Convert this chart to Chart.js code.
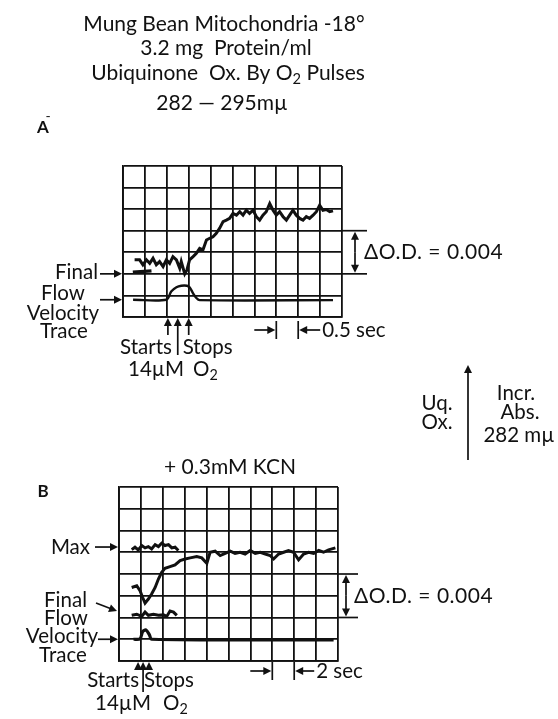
<!DOCTYPE html>
<html>
<head>
<meta charset="utf-8">
<script src="https://cdn.jsdelivr.net/npm/chart.js@4.4.0/dist/chart.umd.min.js"></script>
<style>
body{margin:0;background:#fff;}
#wrap{position:relative;width:558px;height:719px;}
canvas{position:absolute;left:0;top:0;}
</style>
</head>
<body>
<div id="wrap">
<canvas id="chartA" width="558" height="719"></canvas>
<canvas id="chartB" width="558" height="719"></canvas>
</div>
<script>
// x in grid divisions (A: 0.5 sec each, B: 2 sec each), y in grid divisions (0.002 O.D. each)
var traceA_t = [0.53,0.76,0.91,1.07,1.22,1.37,1.52,1.67,1.83,1.98,2.13,2.28,2.44,2.59,2.66,2.82,2.92,3.04,3.2,3.35,3.5,3.65,3.81,3.96,4.11,4.26,4.41,4.57,4.72,4.87,5.02,5.18,5.33,5.48,5.63,5.78,5.94,6.09,6.24,6.39,6.54,6.7,6.85,7.0,7.15,7.31,7.46,7.61,7.76,7.91,8.07,8.22,8.37,8.52,8.68,8.83,8.98,9.13,9.28,9.44,9.59];
var traceA_od = [2.65,2.65,2.42,2.65,2.49,2.72,2.42,2.57,2.34,2.65,2.49,2.8,2.65,2.26,2.57,2.0,2.18,2.65,2.8,2.95,3.18,3.11,3.57,3.65,3.72,3.88,4.11,4.42,4.49,4.57,4.8,4.72,4.88,4.72,4.95,4.8,4.95,4.65,4.49,4.72,4.88,5.26,4.95,4.72,4.88,4.65,4.49,4.72,4.95,4.72,4.57,4.49,4.65,4.57,4.72,4.88,5.18,4.95,4.98,4.88,4.92];
var finalA_t = [0.45, 1.3];
var finalA_od = [2.08, 2.14];
var flowA_t = [0.46,1.98,2.2,2.44,2.66,2.92,3.04,3.2,3.35,3.5,9.59];
var flowA_v = [0.8,0.8,1.18,1.38,1.45,1.45,1.38,1.1,0.88,0.78,0.78];
var pulseA = [2.05, 2.5, 3.0];   // starts, O2, stops

var maxB_t = [0.58,0.73,0.88,1.04,1.19,1.34,1.49,1.65,1.8,1.95,2.1,2.26,2.41,2.56,2.71];
var maxB_od = [5.12,5.23,5.11,5.31,5.2,5.26,5.15,5.35,5.26,5.42,5.31,5.35,5.2,5.23,5.08];
var traceB_t = [0.58,0.81,0.96,1.08,1.19,1.34,1.49,1.65,1.8,1.95,2.1,2.33,2.56,2.79,3.02,3.25,3.55,3.78,4.01,4.16,4.39,4.62,4.85,5.08,5.3,5.53,5.76,5.99,6.22,6.45,6.68,6.9,7.06,7.29,7.52,7.74,7.97,8.2,8.43,8.66,8.89,9.12,9.34,9.57,9.88];
var traceB_od = [3.38,3.46,3.23,2.92,2.66,2.85,3.08,3.38,3.77,4.08,4.26,4.34,4.42,4.62,4.69,4.74,4.8,4.74,4.49,5.0,5.05,4.85,4.95,5.05,4.95,5.0,4.92,5.08,4.95,5.0,4.92,4.85,4.69,4.92,5.0,5.08,5.0,4.65,4.92,5.0,4.95,5.08,5.0,5.11,5.2];
var finalB_t = [0.58,0.81,1.04,1.19,1.34,1.57,1.8,2.03,2.18,2.33,2.49,2.64];
var finalB_od = [2.1,2.15,2.05,2.25,2.1,2.15,2.1,2.12,2.05,2.3,2.25,2.1];
var flowB_t = [0.66,0.96,1.08,1.23,1.39,1.49,9.8];
var flowB_v = [1.0,1.02,1.35,1.43,1.2,1.0,0.97];
var pulseB = [0.87, 1.1, 1.37];

var FONT = 'Lato, "DejaVu Sans", sans-serif';
var INK = '#111';
var LS = 20.5;   // label size

function pts(xs, ys){ return xs.map(function(x, i){ return {x: x, y: ys[i]}; }); }

function line(d, w, tension){
    return {type:'scatter', data:d, showLine:true, borderColor:INK, borderWidth:w,
            pointRadius:0, tension:tension || 0, fill:false};
}

function put(ctx, s, x, y, size, align, weight, spacing){
    ctx.font = (weight || 'normal') + ' ' + size + 'px ' + FONT;
    ctx.letterSpacing = spacing || '0px';
    ctx.textAlign = align || 'left';
    ctx.textBaseline = 'middle';
    ctx.fillStyle = INK;
    ctx.fillText(s, x, y);
    ctx.letterSpacing = '0px';
}

// parts: [text, isSubscript]
function rich(ctx, parts, x, y, size, align){
    var total = 0;
    parts.forEach(function(p){
        ctx.font = (p[1] ? size*0.7 : size) + 'px ' + FONT;
        total += ctx.measureText(p[0]).width;
    });
    var cx = align == 'center' ? x - total/2 : x;
    parts.forEach(function(p){
        var s = p[1] ? size*0.7 : size;
        put(ctx, p[0], cx, y + (p[1] ? size*0.3 : 0), s, 'left');
        ctx.font = s + 'px ' + FONT;
        cx += ctx.measureText(p[0]).width;
    });
}

function arrow(ctx, x1, y1, x2, y2){
    var a = Math.atan2(y2-y1, x2-x1), L = 8, W = 4;
    ctx.strokeStyle = INK; ctx.fillStyle = INK; ctx.lineWidth = 1.7;
    ctx.beginPath(); ctx.moveTo(x1, y1); ctx.lineTo(x2 - Math.cos(a)*L*0.8, y2 - Math.sin(a)*L*0.8); ctx.stroke();
    ctx.beginPath();
    ctx.moveTo(x2, y2);
    ctx.lineTo(x2 - Math.cos(a)*L - Math.sin(a)*W, y2 - Math.sin(a)*L + Math.cos(a)*W);
    ctx.lineTo(x2 - Math.cos(a)*L + Math.sin(a)*W, y2 - Math.sin(a)*L - Math.cos(a)*W);
    ctx.closePath(); ctx.fill();
}

function seg(ctx, x1, y1, x2, y2, w){
    ctx.strokeStyle = INK; ctx.lineWidth = w || 1.7;
    ctx.beginPath(); ctx.moveTo(x1, y1); ctx.lineTo(x2, y2); ctx.stroke();
}

function gridScale(max){
    return {type:'linear', min:0, max:max,
        ticks:{display:false, stepSize:1},
        grid:{color:INK, lineWidth:1.8, drawTicks:false},
        border:{color:INK, width:1.8}};
}

function bracket(ctx, c, ext, arrowOff, textX){
    var xr = c.chartArea.right, y4 = c.scales.y.getPixelForValue(4), y2 = c.scales.y.getPixelForValue(2);
    seg(ctx, xr, y4, xr + ext, y4);
    seg(ctx, xr, y2, xr + ext, y2);
    var ax = xr + arrowOff;
    arrow(ctx, ax, (y4+y2)/2, ax, y4 + 1);
    arrow(ctx, ax, (y4+y2)/2, ax, y2 - 1);
    put(ctx, 'ΔO.D. = 0.004', textX, (y4+y2)/2, 21, 'left', 'normal', '0.5px');
}

function pulses(ctx, c, marks, tail, longTail){
    var b = c.chartArea.bottom;
    marks.forEach(function(u, i){
        var px = c.scales.x.getPixelForValue(u);
        arrow(ctx, px, i == 1 ? longTail : tail, px, b + 1);
    });
    return marks.map(function(u){ return c.scales.x.getPixelForValue(u); });
}

function timeBar(ctx, c, y, label, gap){
    var x7 = c.scales.x.getPixelForValue(7), x8 = c.scales.x.getPixelForValue(8);
    seg(ctx, x7, y - 9, x7, y + 9);
    seg(ctx, x8, y - 9, x8, y + 9);
    arrow(ctx, x7 - 22, y, x7 - 1, y);
    arrow(ctx, x8 + gap, y, x8 + 1, y);
    put(ctx, label, x8 + gap + 2, y, LS);
}

var annotA = {
    id: 'annotA',
    afterDraw: function(c){
        var ctx = c.ctx, y = c.scales.y;
        ctx.save();
        put(ctx, 'Mung Bean Mitochondria -18°', 224, 24, 21, 'center');
        put(ctx, '3.2 mg  Protein/ml', 226, 48, 21, 'center');
        rich(ctx, [['Ubiquinone  Ox. By O', 0], ['2', 1], [' Pulses', 0]], 228, 73, 21, 'center');
        put(ctx, '282 — 295mµ', 222, 103, 21, 'center');
        put(ctx, '-', 48, 116, 14, 'center');
        put(ctx, 'A', 43, 128, 17, 'center', 'bold');

        put(ctx, 'Final', 98, 272, LS, 'right');
        arrow(ctx, 100, y.getPixelForValue(2), c.chartArea.left - 1, y.getPixelForValue(2));
        put(ctx, 'Flow', 63, 293, LS, 'center');
        arrow(ctx, 100, y.getPixelForValue(flowA_v[0]), c.chartArea.left - 1, y.getPixelForValue(flowA_v[0]));
        put(ctx, 'Velocity', 63, 313, LS, 'center');
        put(ctx, 'Trace', 64, 331, LS, 'center');

        bracket(ctx, c, 25, 13, 364);

        var px = pulses(ctx, c, pulseA, 335, 355);
        put(ctx, 'Starts', px[0] + 4, 347, LS, 'right');
        put(ctx, 'Stops', px[2] - 6, 347, LS, 'left');
        put(ctx, '14µM', 128, 369, LS, 'left');
        rich(ctx, [['O', 0], ['2', 1]], 193, 369, LS, 'left');

        timeBar(ctx, c, 330, '0.5 sec', 22);

        // direction key between panels
        arrow(ctx, 468, 460, 468, 365);
        put(ctx, 'Uq.', 437, 403, LS, 'center');
        put(ctx, 'Ox.', 437, 422, LS, 'center');
        put(ctx, 'Incr.', 516, 393, LS, 'center');
        put(ctx, 'Abs.', 520, 412, LS, 'center');
        put(ctx, '282 mµ', 519, 435, LS, 'center');
        ctx.restore();
    }
};

var annotB = {
    id: 'annotB',
    afterDraw: function(c){
        var ctx = c.ctx, y = c.scales.y, L = c.chartArea.left;
        ctx.save();
        put(ctx, '+ 0.3mM KCN', 230, 467, 21, 'center');
        put(ctx, 'B', 43, 492, 17, 'center', 'bold');

        put(ctx, 'Max', 90, 547, LS, 'right');
        arrow(ctx, 95, y.getPixelForValue(5.24), L - 1, y.getPixelForValue(5.24));
        put(ctx, 'Final', 87, 600, LS, 'right');
        arrow(ctx, 96, 603, L - 2, 611);
        put(ctx, 'Flow', 66, 618, LS, 'center');
        put(ctx, 'Velocity', 62, 636, LS, 'center');
        arrow(ctx, 98, y.getPixelForValue(flowB_v[0]), L - 1, y.getPixelForValue(flowB_v[0]));
        put(ctx, 'Trace', 63, 655, LS, 'center');

        bracket(ctx, c, 20, 8, 354);

        var px = pulses(ctx, c, pulseB, 670, 692);
        put(ctx, 'Starts', px[0] + 1, 680, LS, 'right');
        put(ctx, 'Stops', px[2] - 5, 680, LS, 'left');
        put(ctx, '14µM', 95, 703, LS, 'left');
        rich(ctx, [['O', 0], ['2', 1]], 163, 703, LS, 'left');

        timeBar(ctx, c, 671, '2 sec', 20);
        ctx.restore();
    }
};

function makeChart(id, datasets, rows, pad, plugin){
    return new Chart(document.getElementById(id), {
        type: 'scatter',
        data: {datasets: datasets},
        options: {
            responsive: false,
            animation: false,
            events: [],
            layout: {padding: pad},
            plugins: {legend: {display: false}, tooltip: {enabled: false}},
            scales: {x: gridScale(10), y: gridScale(rows)}
        },
        plugins: [plugin]
    });
}

makeChart('chartA', [
    line(pts(traceA_t, traceA_od), 3),
    line(pts(finalA_t, finalA_od), 3.4),
    line(pts(flowA_t, flowA_v), 2.4, 0.3)
], 7, {left: 123, top: 166, right: 216, bottom: 402}, annotA);

makeChart('chartB', [
    line(pts(maxB_t, maxB_od), 3),
    line(pts(traceB_t, traceB_od), 3),
    line(pts(finalB_t, finalB_od), 3),
    line(pts(flowB_t, flowB_v), 3.2, 0.3)
], 8, {left: 119, top: 487, right: 220, bottom: 58}, annotB);
</script>
</body>
</html>
